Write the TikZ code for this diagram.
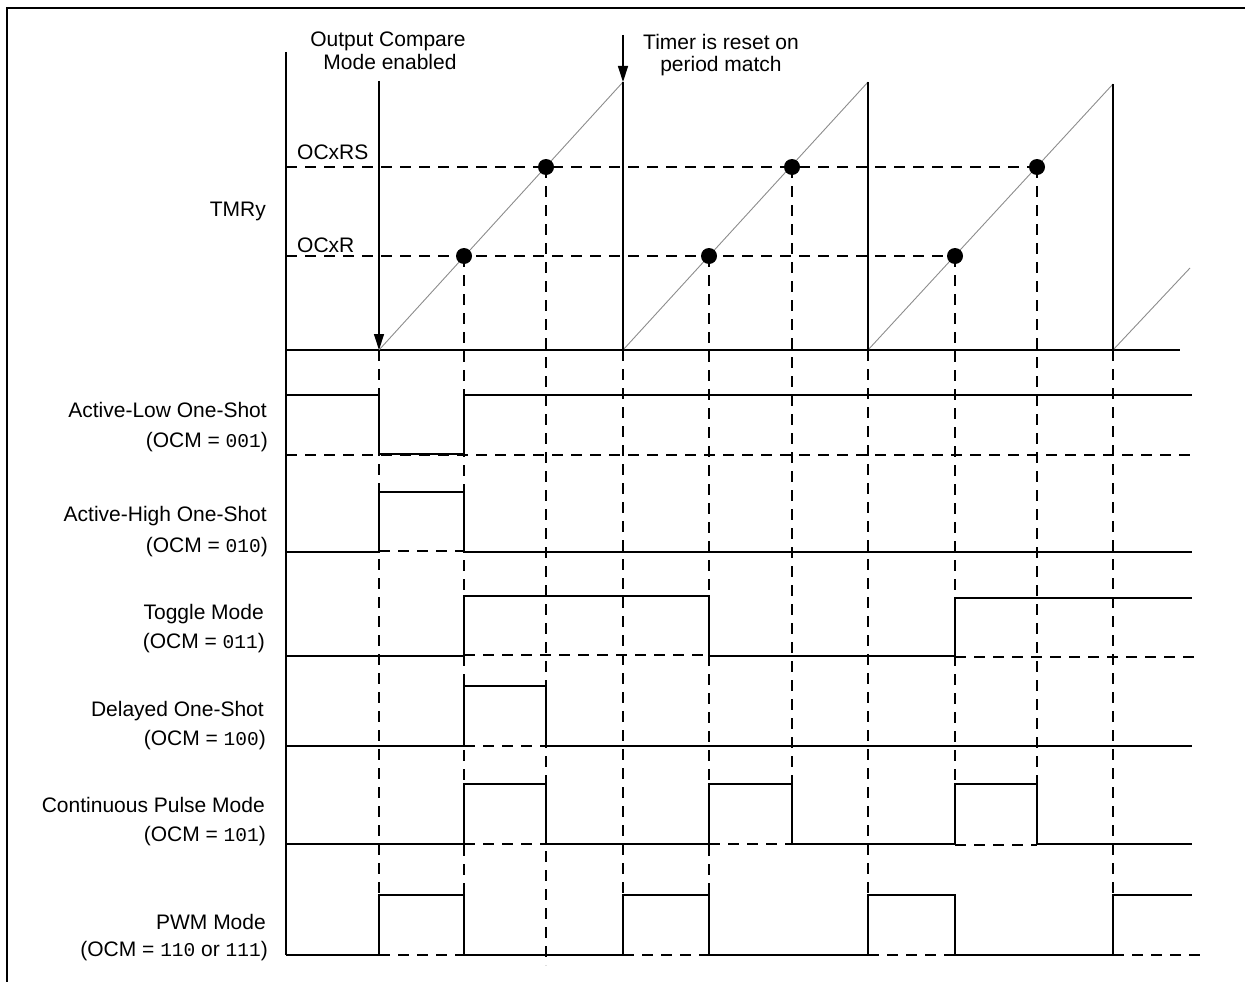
\documentclass[tikz,border=0pt]{standalone}
\usepackage{fontspec}
\setmainfont{Liberation Sans}
\setmonofont{Liberation Mono}
\usetikzlibrary{arrows.meta}
\newcommand{\ocmcode}[1]{{\ttfamily\fontsize{19.5}{23}\selectfont#1}}
\tikzset{
	sig/.style={line width=1.3pt},
	ramp/.style={line width=0.9pt, color=black!45},
	guide/.style={line width=1.2pt, dash pattern=on 11pt off 8pt},
	cmpdot/.style={fill=black},
	wavelabel/.style={anchor=base east, inner sep=0pt, font=\fontsize{21}{23}\selectfont},
	toplabel/.style={anchor=base, inner sep=0pt, font=\fontsize{21}{23}\selectfont},
	reglabel/.style={anchor=base west, inner sep=0pt, font=\fontsize{21}{23}\selectfont},
	tip/.style={-{Triangle[length=16pt,width=10pt]}}
}

\begin{document}
\begin{tikzpicture}[x=1pt, y=-1pt]
			%%%%% START %%%%%
			\useasboundingbox (0,0) rectangle (1245,982);
			
			\draw[line width=1.5pt] (7,982) -- (7,8) -- (1245,8);
			
			% time axis of the timer
			\draw[sig] (286,52) -- (286,955);
			\draw[sig] (286,350) -- (1180,350);
			
			\draw[guide] (286,167) -- (1037,167);
			\draw[guide] (286,256) -- (955,256);
			
			\draw[ramp] (379,350) -- (623,82);
			\draw[ramp] (623,350) -- (868,82);
			\draw[ramp] (868,350) -- (1113,84);
			\draw[ramp] (1113,350) -- (1190,268);
			
			\draw[sig] (623,82) -- (623,350);
			\draw[sig] (868,82) -- (868,350);
			\draw[sig] (1113,84) -- (1113,350);
			
			\draw[sig, tip] (379,81) -- (379,350);
			\draw[sig, tip] (623,35) -- (623,82);
			
			% guides down through the modes
			\draw[guide] (379,350) -- (379,895);
			\draw[guide] (464,256) -- (464,895);
			\draw[guide] (546,167) -- (546,965);
			\draw[guide] (623,350) -- (623,955);
			\draw[guide] (709,256) -- (709,895);
			\draw[guide] (792,167) -- (792,784);
			\draw[guide] (868,350) -- (868,895);
			\draw[guide] (955,256) -- (955,784);
			\draw[guide] (1037,167) -- (1037,844);
			\draw[guide] (1113,350) -- (1113,895);
			
			\fill[cmpdot] (464,256) circle[radius=8pt];
			\fill[cmpdot] (546,167) circle[radius=8pt];
			\fill[cmpdot] (709,256) circle[radius=8pt];
			\fill[cmpdot] (792,167) circle[radius=8pt];
			\fill[cmpdot] (955,256) circle[radius=8pt];
			\fill[cmpdot] (1037,167) circle[radius=8pt];
			
			% active-low one-shot
			\draw[guide] (286,455) -- (1190,455);
			\draw[sig] (286,395) -- (379,395) -- (379,454) -- (464,454) -- (464,395) -- (1192,395);
			
			% active-high one-shot
			\draw[guide] (379,551) -- (464,551);
			\draw[sig] (286,552) -- (379,552) -- (379,492) -- (464,492) -- (464,552) -- (1192,552);
			
			% toggle
			\draw[guide] (464,655) -- (709,655);
			\draw[guide] (955,657) -- (1195,657);
			\draw[sig] (286,656) -- (464,656) -- (464,596) -- (709,596) -- (709,656) -- (955,656) -- (955,598) -- (1192,598);
			
			% delayed one-shot
			\draw[guide] (464,746) -- (546,746);
			\draw[sig] (286,746) -- (464,746) -- (464,686) -- (546,686) -- (546,746) -- (1192,746);
			
			% continuous pulse
			\draw[guide] (464,844) -- (546,844);
			\draw[guide] (709,844) -- (792,844);
			\draw[guide] (955,845) -- (1037,845);
			\draw[sig] (286,844) -- (464,844) -- (464,784) -- (546,784) -- (546,844) -- (709,844) -- (709,784) -- (792,784) -- (792,844)
				-- (955,844) -- (955,784) -- (1037,784) -- (1037,844) -- (1192,844);
			
			% pwm
			\draw[guide] (379,955) -- (464,955);
			\draw[guide] (623,955) -- (709,955);
			\draw[guide] (868,955) -- (955,955);
			\draw[guide] (1113,955) -- (1202,955);
			\draw[sig] (286,955) -- (379,955) -- (379,895) -- (464,895) -- (464,955) -- (623,955) -- (623,895) -- (709,895) -- (709,955)
				-- (868,955) -- (868,895) -- (955,895) -- (955,955) -- (1113,955) -- (1113,895) -- (1192,895);
			
			% texts
			\node[toplabel] (enable1) at (388,47) {Output Compare};
			\node[toplabel] (enable2) at (390,70) {Mode enabled};
			\node[toplabel] (reset1) at (721,50) {Timer is reset on};
			\node[toplabel] (reset2) at (721,72) {period match};
			
			\node[wavelabel] (tmry) at (266,216) {TMRy};
			\node[reglabel] (ocxrs) at (297,159) {OCxRS};
			\node[reglabel] (ocxr) at (297,252) {OCxR};
			
			\node[wavelabel] (alow) at (267,417) {Active-Low One-Shot};
			\node[wavelabel] (alowocm) at (268,447) {(OCM = \ocmcode{001})};
			\node[wavelabel] (ahigh) at (267,521) {Active-High One-Shot};
			\node[wavelabel] (ahighocm) at (268,552) {(OCM = \ocmcode{010})};
			\node[wavelabel] (toggle) at (264,619) {Toggle Mode};
			\node[wavelabel] (toggleocm) at (265,648) {(OCM = \ocmcode{011})};
			\node[wavelabel] (delayed) at (264,716) {Delayed One-Shot};
			\node[wavelabel] (delayedocm) at (266,745) {(OCM = \ocmcode{100})};
			\node[wavelabel] (cont) at (265,812) {Continuous Pulse Mode};
			\node[wavelabel] (contocm) at (266,841) {(OCM = \ocmcode{101})};
			\node[wavelabel] (pwm) at (266,929) {PWM Mode};
			\node[wavelabel] (pwmocm) at (268,956) {(OCM = \ocmcode{110} or \ocmcode{111})};
			
			%%%%% END %%%%%
\end{tikzpicture}
\end{document}
